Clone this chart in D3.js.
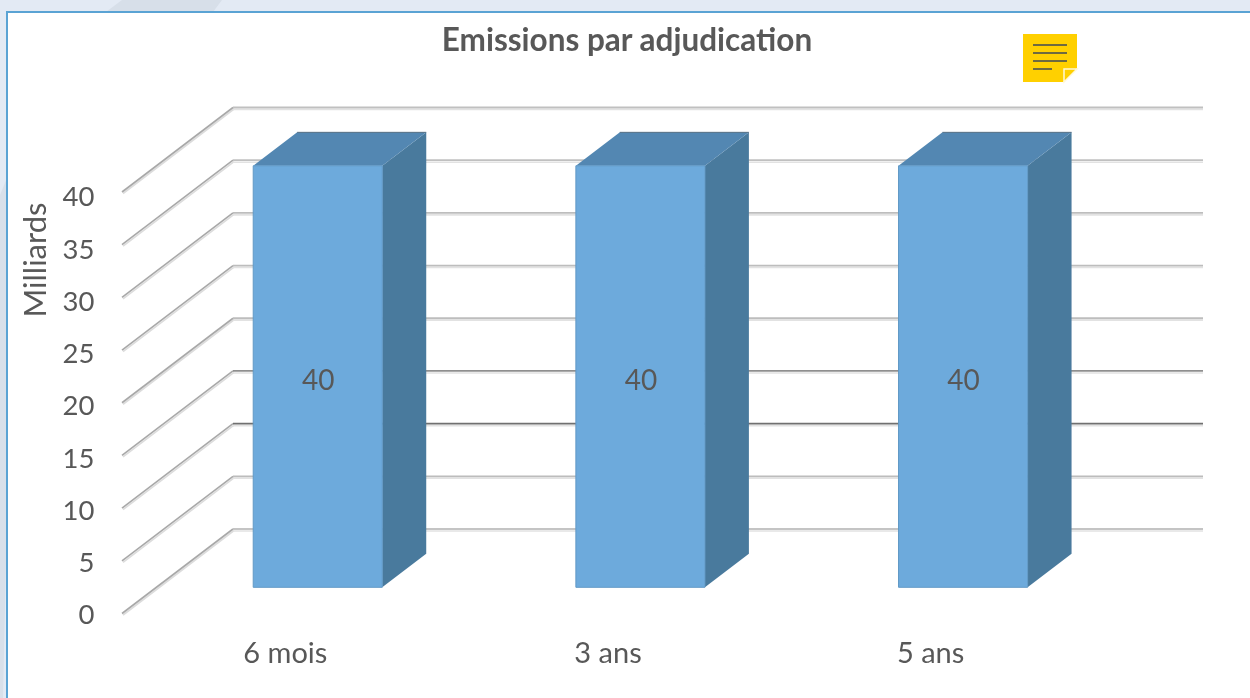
<!DOCTYPE html>
<html><head><meta charset="utf-8">
<script src="https://cdn.jsdelivr.net/npm/d3@7/dist/d3.min.js"></script>
<style>html,body{margin:0;padding:0;background:#fff}svg{display:block}
text{font-family:Lato,"Open Sans",sans-serif;fill:#595959}</style></head>
<body><svg id="c" width="1250" height="698"></svg>
<script>
const categories = ["6 mois", "3 ans", "5 ans"];
const values = [40, 40, 40];
const yTicks = [0, 5, 10, 15, 20, 25, 30, 35, 40];
const titleText = "Emissions par adjudication";
const yTitle = "Milliards";
const gridColors = ["#c4c4c4","#bcbcbc","#707070","#8f8f8f","#bdbdbd","#bdbdbd","#bdbdbd","#c0c0c0","#c0c0c0"];

const W = 1250, H = 698;
const svg = d3.select("#c");
const defs = svg.append("defs");
defs.append("filter").attr("id","soft").append("feGaussianBlur").attr("stdDeviation",0.55);
defs.append("filter").attr("id","softText").append("feGaussianBlur").attr("stdDeviation",0.3);

// backdrop
svg.append("rect").attr("width",W).attr("height",H).attr("fill","#e3eaf4");
const bgLine = d3.line();
svg.append("path").attr("d",bgLine([[106,12],[122,0],[222,0],[213,12]])+"Z").attr("fill","#d7dfe9");
svg.append("path").attr("d",bgLine([[0,195],[7,178],[7,698],[0,698]])+"Z").attr("fill","#d8e0ea");
svg.append("path").attr("d",bgLine([[3,698],[7,520],[7,698]])+"Z").attr("fill","#e3eaf4");
svg.append("rect").attr("x",7).attr("y",12).attr("width",W+10).attr("height",H+10)
  .attr("fill","#fff").attr("stroke","#5aa3d4").attr("stroke-width",2);

// 3-D projection: x on the floor front edge, value, depth 0..1
const depthX = 111, depthY = 84.5;
const x = d3.scaleBand().domain(categories).range([122,1090]).paddingInner(0.6).paddingOuter(0.3);
const y = d3.scaleLinear().domain([0,40]).range([613.5,192]);
const yLabel = d3.scaleLinear().domain([0,40]).range([615,197]);
const P = (px,v,z) => [px + z*depthX, y(v) - z*depthY];

const chart = svg.append("g").attr("filter","url(#soft)");

// walls' grid
const grid = chart.append("g");
yTicks.forEach((t,i) => {
  const side = [P(122,t,0), P(122,t,1)];
  const back = [P(122,t,1), P(1092,t,1)];
  grid.append("path").attr("d",d3.line()(side)).attr("transform","translate(1,1.5)")
    .attr("fill","none").attr("stroke","#dcdcdc").attr("stroke-width",1.6);
  grid.append("path").attr("d",d3.line()(side))
    .attr("fill","none").attr("stroke","#a8a8a8").attr("stroke-width",1.6);
  grid.append("path").attr("d",d3.line()(back)).attr("transform","translate(0,2)")
    .attr("fill","none").attr("stroke","#e2e2e2").attr("stroke-width",1.6);
  grid.append("path").attr("d",d3.line()(back))
    .attr("fill","none").attr("stroke",gridColors[i]).attr("stroke-width",1.8);
});

// bars
const z0 = 0.31, z1 = 0.706;
const rows = categories.map((c,i)=>({c,v:values[i]}));
const bars = chart.append("g").selectAll("g").data(rows).join("g");
const poly = a => d3.line()(a) + "Z";
bars.append("path").attr("fill","#4a7a9d").attr("d",d=>{
  const r = x(d.c)+x.bandwidth();
  return poly([P(r,0,z0),P(r,d.v,z0),P(r,d.v,z1),P(r,0,z1)]);
});
bars.append("path").attr("fill","#5287b2").attr("d",d=>{
  const l = x(d.c), r = l+x.bandwidth();
  return poly([P(l,d.v,z0),P(l,d.v,z1),P(r,d.v,z1),P(r,d.v,z0)]);
});
bars.append("path").attr("fill","none").attr("stroke","#566f84").attr("stroke-width",1).attr("d",d=>{
  const l = x(d.c), r = l+x.bandwidth();
  return d3.line()([P(l,d.v,z1),P(r,d.v,z1)]);
});
bars.append("path").attr("fill","#6daadc").attr("stroke","#6199c6").attr("stroke-width",1).attr("d",d=>{
  const l = x(d.c), r = l+x.bandwidth();
  return poly([P(l,0,z0),P(l,d.v,z0),P(r,d.v,z0),P(r,0,z0)]);
});

const labels = svg.append("g").attr("filter","url(#softText)");
labels.selectAll("text.dl").data(rows).join("text")
  .attr("class","dl").attr("text-anchor","middle").attr("font-size",28)
  .attr("x",d=>P(x(d.c)+x.bandwidth()/2,0,z0)[0]+0.5)
  .attr("y",390).text(d=>d.v);

// axes
const ya = labels.append("g").attr("transform","translate(94.5,0)")
  .call(d3.axisLeft(yLabel).tickValues(yTicks).tickSize(0).tickPadding(0));
ya.select(".domain").remove();
ya.selectAll("text").attr("font-size",27.5).style("fill","#595959");
ya.attr("font-family",null);

const xa = labels.append("g").attr("transform","translate(2,642)")
  .call(d3.axisBottom(x).tickSize(0).tickPadding(0));
xa.select(".domain").remove();
xa.selectAll("text").attr("font-size",29).attr("dy",null).attr("y",21).style("fill","#595959");
xa.attr("font-family",null);

labels.append("text").attr("transform","translate(46,260) rotate(-90)").attr("text-anchor","middle")
  .attr("font-size",31).text(yTitle);
labels.append("text").attr("x",627).attr("y",51).attr("text-anchor","middle")
  .attr("font-size",31.5).attr("font-weight",700).text(titleText);

// note icon
const note = svg.append("g").attr("transform","translate(1023,34)");
note.append("path").attr("d","M0 0H54V34L40 48H0Z").attr("fill","#ffd000");
note.append("path").attr("d","M41 48V35H54Z").attr("fill","#ffd000").attr("stroke","#fff8d8").attr("stroke-width",1.5);
[[11],[19],[27],[35,19]].forEach(([ly,w]) => note.append("rect")
  .attr("x",10).attr("y",ly-1).attr("width",w||34).attr("height",2).attr("fill","#6e6a40"));
</script></body></html>
